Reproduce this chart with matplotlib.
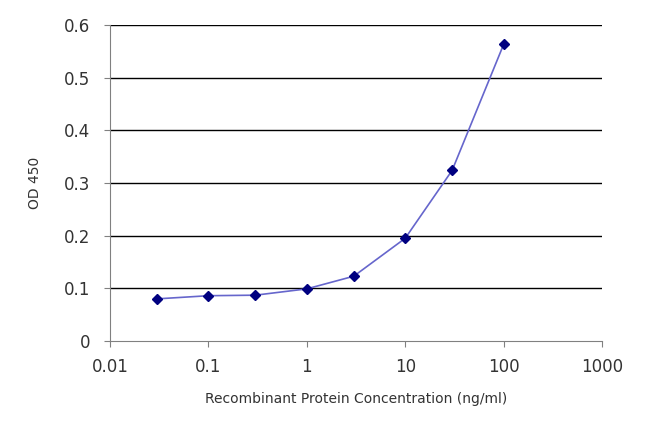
import matplotlib
matplotlib.use("Agg")
import matplotlib.pyplot as plt

conc = [0.03, 0.1, 0.3, 1, 3, 10, 30, 100]
od = [0.080, 0.086, 0.087, 0.099, 0.123, 0.195, 0.324, 0.563]
yticks = [0, 0.1, 0.2, 0.3, 0.4, 0.5, 0.6]
xticks = [0.01, 0.1, 1, 10, 100, 1000]
xlabels = ["0.01", "0.1", "1", "10", "100", "1000"]

fig = plt.figure(figsize=(6.5, 4.33), dpi=100)
ax = fig.add_axes([110/650, 1-341/433, (602-110)/650, (341-25)/433])
ax.set_xscale("log")
ax.set_xlim(0.01, 1000)
ax.set_ylim(0, 0.6)
for y in yticks[1:]:
    ax.axhline(y, color="black", lw=1, zorder=0)
ax.plot(conc, od, color="#6666cc", lw=1.2, zorder=2)
ax.plot(conc, od, "D", color="#000080", ms=5, zorder=3)
ax.set_yticks(yticks)
ax.set_yticklabels(["0", "0.1", "0.2", "0.3", "0.4", "0.5", "0.6"], fontsize=12)
ax.set_xticks(xticks)
ax.set_xticklabels(xlabels, fontsize=12)
ax.minorticks_off()
for s in ["top", "right"]:
    ax.spines[s].set_visible(False)
for s in ["left", "bottom"]:
    ax.spines[s].set_color("#808080")
ax.tick_params(colors="#333333", length=4, color="#808080")
ax.tick_params(axis="y", pad=10)
ax.tick_params(axis="x", pad=8)
ax.set_xlabel("Recombinant Protein Concentration (ng/ml)", fontsize=10, color="#333333", labelpad=12)
ax.set_ylabel("OD 450", fontsize=10, color="#333333", labelpad=16)
fig.savefig("out.png", dpi=100)
